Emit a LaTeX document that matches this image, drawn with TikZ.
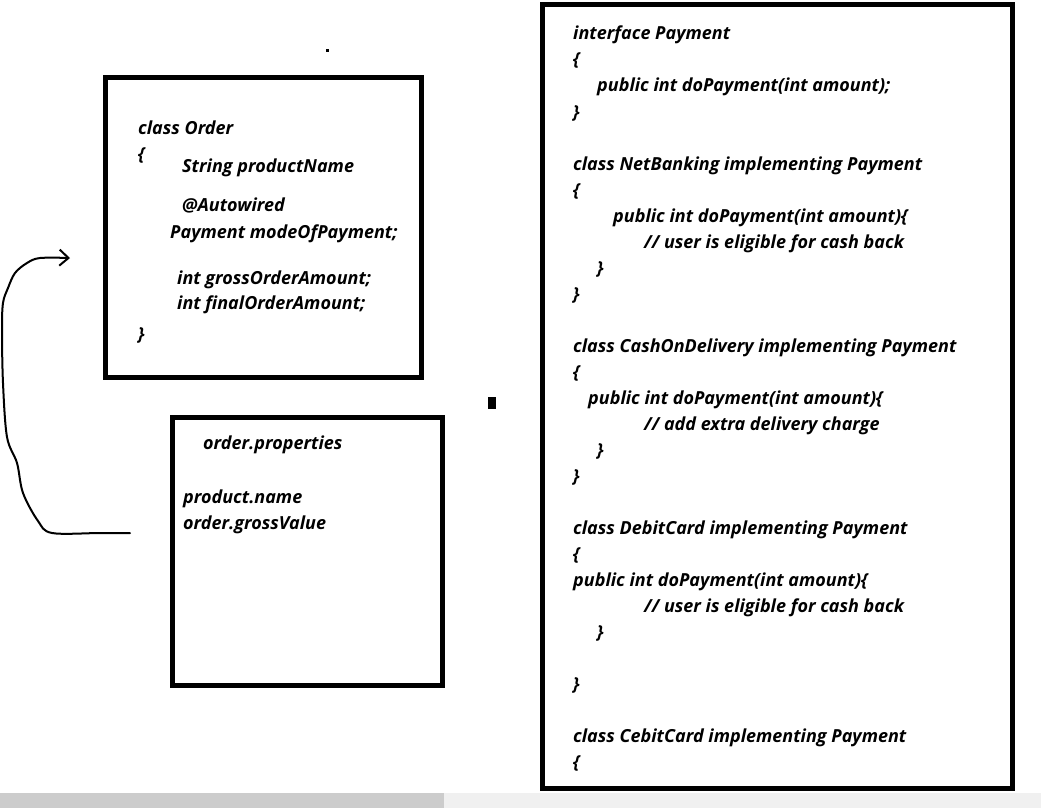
\documentclass[tikz,border=0pt]{standalone}
\usepackage{fontspec}
\setmainfont{Open Sans}
\usetikzlibrary{arrows.meta}
\newcommand{\dslash}{//}
\tikzset{
	codeline/.style={anchor=base west, inner sep=0pt, font=\fontsize{18}{22}\selectfont\bfseries\itshape},
	thickbox/.style={line width=5pt},
	inkline/.style={line width=2pt, line cap=round, line join=round}
}
\begin{document}
\begin{tikzpicture}[x=1pt, y=-1pt]
	\useasboundingbox (0,0) rectangle (1041,808);
	\fill[black!20] (0,793) rectangle (444,808);
	\fill[black!6] (444,793) rectangle (1041,808);
	
	\draw[thickbox] (105,77.5) rectangle (421.5,377.5);
	\draw[thickbox] (172.5,417.5) rectangle (442.5,685);
	\draw[thickbox] (542.5,4.5) rectangle (1012.5,788.5);
	
	\fill (326,49) rectangle (329,52);
	\fill (488,397) rectangle (496,409);
	
	\foreach \x/\y/\t [count=\i] in {138/134/class Order, 138/160/\{, 182/172/String productName, 182/211/@Autowired, 170/238/Payment modeOfPayment;, 177/284/int grossOrderAmount;, 177/309/int finalOrderAmount;, 138/340/\}}
	{
		\node[codeline] (order\i) at (\x,\y) {\t};
	}
	
	\foreach \x/\y/\t [count=\i] in {203/449/order.properties, 183/503/product.name, 183/529/order.grossValue}
	{
		\node[codeline] (prop\i) at (\x,\y) {\t};
	}
	
	\foreach \x/\y/\t [count=\i] in {573/40/interface Payment, 573/66/\{, 597/92/public int doPayment(int amount);, 573/118/\},
		573/170/class NetBanking implementing Payment, 573/196/\{, 613/222/public int doPayment(int amount)\{, 644/248/\dslash{} user is eligible for cash back, 597/274/\}, 573/300/\},
		573/352/class CashOnDelivery implementing Payment, 573/378/\{, 588/404/public int doPayment(int amount)\{, 644/430/\dslash{} add extra delivery charge, 597/456/\}, 573/482/\},
		573/534/class DebitCard implementing Payment, 573/560/\{, 573/586/public int doPayment(int amount)\{, 644/612/\dslash{} user is eligible for cash back, 597/638/\}, 573/690/\},
		573/742/class CebitCard implementing Payment, 573/768/\{}
	{
		\node[codeline] (pay\i) at (\x,\y) {\t};
	}
	
	\coordinate (propend) at (130,533);
	\coordinate (ordertip) at (70,258);
	\draw[inkline, -{Straight Barb[length=9pt, width=16pt, line width=2pt]}] plot[smooth, tension=0.55] coordinates {(propend) (100,533) (52,533) (38,521) (23,493) (17,463) (7,437) (3,383) (2,330) (3,303) (8,288) (15,273) (27,263) (40,258) (ordertip)};
\end{tikzpicture}
\end{document}
